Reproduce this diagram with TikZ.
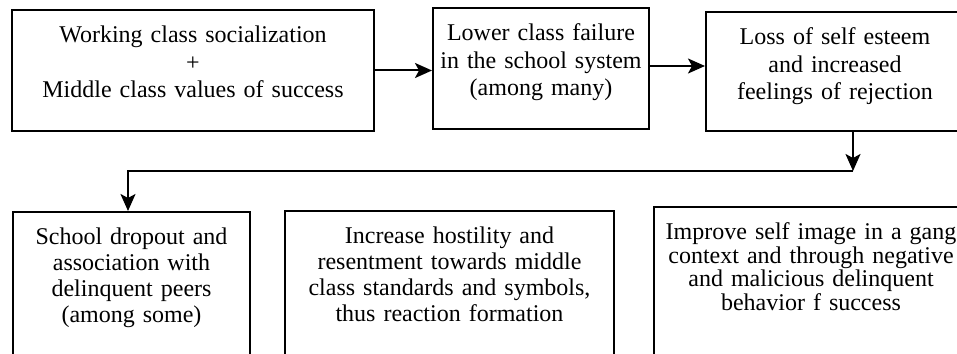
\documentclass[tikz,border=0pt]{standalone}
\usepackage{fontspec}
\setmainfont{Liberation Serif}
\usepackage{tikz}
\usetikzlibrary{arrows.meta,calc,positioning}

\begin{document}
\begin{tikzpicture}[x=0.5pt, y=-0.5pt,
  box/.style={draw, line width=1pt, inner sep=0pt, align=center, anchor=north west,
    text height=16.5pt, font=\fontsize{12}{13.75}\selectfont},
  lowbox/.style={box, text height=16.25pt, font=\fontsize{12}{13}\selectfont},
  arr/.style={line width=1pt, -{Stealth[length=8.5pt,width=7.5pt,inset=2pt]}}]
\clip (0,0) rectangle (957,353);
% Riga superiore
\node[box, text width=181pt, text depth=44pt] (social) at (11,9)
  {Working class socialization\\+\\Middle class values of success};
\node[box, text width=108pt, text depth=44pt] (failure) at (432,7)
  {Lower class failure\\in the school system\\(among many)};
\node[box, text width=129pt, text depth=43pt] (esteem) at (705,11)
  {Loss of self esteem\\and increased\\feelings of rejection};
% Riga inferiore
\node[lowbox, text width=118.5pt, text depth=68pt] (dropout) at (12,211)
  {School dropout and\\association with\\delinquent peers\\(among some)};
\node[lowbox, text width=164.5pt, text depth=69pt] (hostility) at (284,210)
  {Increase hostility and\\resentment towards middle\\class standards and symbols,\\thus reaction formation};
\node[lowbox, text width=157pt, text depth=71pt, font=\fontsize{12}{11.75}\selectfont] (gang) at (653,206)
  {Improve self image in a gang\\context and through negative\\and malicious delinquent\\behavior f success};
% frecce
\draw[arr] (social.east) -- (social.east -| failure.west);
\draw[arr] ([yshift=1.25pt]failure.east) -- ([yshift=1.25pt]failure.east -| esteem.west);
\coordinate (turn) at (853,171);
\draw[arr] (esteem.south -| turn) -- (turn);
\draw[arr] (turn) -| ([xshift=58pt]dropout.north west);
\end{tikzpicture}
\end{document}
